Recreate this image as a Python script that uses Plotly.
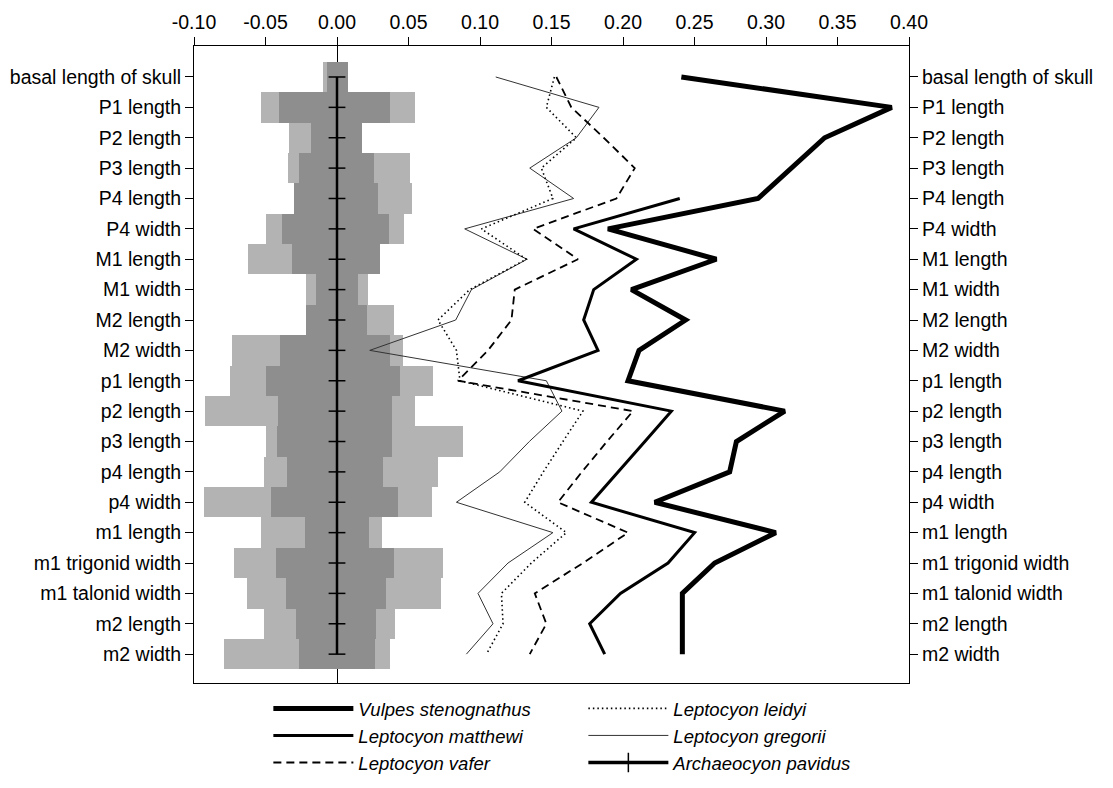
import plotly.graph_objects as go

categories = ["basal length of skull", "P1 length", "P2 length", "P3 length", "P4 length",
              "P4 width", "M1 length", "M1 width", "M2 length", "M2 width",
              "p1 length", "p2 length", "p3 length", "p4 length", "p4 width",
              "m1 length", "m1 trigonid width", "m1 talonid width", "m2 length", "m2 width"]

# variation ranges (light = outer range, dark = inner range)
light_lo = [-0.0095, -0.0530, -0.0338, -0.0345, -0.0298, -0.0494, -0.0624, -0.0217, -0.0217, -0.0734,
            -0.0748, -0.0920, -0.0494, -0.0513, -0.0930, -0.0534, -0.0717, -0.0631, -0.0513, -0.0790]
light_hi = [0.0078, 0.0546, 0.0173, 0.0513, 0.0527, 0.0469, 0.0303, 0.0217, 0.0397, 0.0462,
            0.0671, 0.0545, 0.0881, 0.0708, 0.0664, 0.0313, 0.0739, 0.0730, 0.0406, 0.0369]
dark_lo = [-0.0070, -0.0406, -0.0179, -0.0268, -0.0298, -0.0382, -0.0317, -0.0149, -0.0217, -0.0401,
           -0.0494, -0.0413, -0.0420, -0.0347, -0.0464, -0.0224, -0.0429, -0.0354, -0.0289, -0.0268]
dark_hi = [0.0078, 0.0370, 0.0173, 0.0257, 0.0287, 0.0362, 0.0303, 0.0147, 0.0210, 0.0369,
           0.0443, 0.0387, 0.0387, 0.0322, 0.0427, 0.0222, 0.0397, 0.0341, 0.0276, 0.0269]

vulpes = [0.2408, 0.3879, 0.3410, 0.3176, 0.2944, 0.1895, 0.2653, 0.2059, 0.2438, 0.2112,
          0.2035, 0.3131, 0.2793, 0.2746, 0.2222, 0.3068, 0.2641, 0.2415, 0.2415, 0.2415]
matthewi = [None, None, None, None, 0.2397, 0.1655, 0.2094, 0.1795, 0.1725, 0.1825,
            0.1266, 0.2338, 0.2153, 0.1968, 0.1779, 0.2501, 0.2315, 0.1982, 0.1767, 0.1872]
vafer = [0.1534, 0.1639, 0.1865, 0.2082, 0.1954, 0.1371, 0.1685, 0.1243, 0.1220, 0.1056,
         0.0846, 0.2070, 0.1888, 0.1713, 0.1545, 0.2035, 0.1720, 0.1383, 0.1464, 0.1348]
leidyi = [0.1520, 0.1464, 0.1674, 0.1429, 0.1510, 0.1010, 0.1324, 0.0928, 0.0706, 0.0835,
          0.0860, 0.1720, 0.1580, 0.1443, 0.1313, 0.1604, 0.1359, 0.1150, 0.1161, 0.1045]
gregorii = [0.1110, 0.1832, 0.1674, 0.1348, 0.1655, 0.0893, 0.1329, 0.0940, 0.0830, 0.0229,
            0.1464, 0.1573, 0.1345, 0.1138, 0.0835, 0.1510, 0.1196, 0.0986, 0.1091, 0.0905]
archaeocyon = [0.0] * 20

x_tickvals = [-0.10, -0.05, 0.00, 0.05, 0.10, 0.15, 0.20, 0.25, 0.30, 0.35, 0.40]
x_ticktext = ["-0.10", "-0.05", "0.00", "0.05", "0.10", "0.15", "0.20", "0.25", "0.30", "0.35", "0.40"]

FONT = "Liberation Sans, Arial, sans-serif"
TICK_SIZE = 19.5

fig = go.Figure()

fig.add_trace(go.Bar(y=categories, base=light_lo, x=[h - l for h, l in zip(light_hi, light_lo)],
                     orientation="h", width=1, marker=dict(color="#b3b3b3", line=dict(width=0)),
                     showlegend=False, hoverinfo="skip"))
fig.add_trace(go.Bar(y=categories, base=dark_lo, x=[h - l for h, l in zip(dark_hi, dark_lo)],
                     orientation="h", width=1, marker=dict(color="#8e8e8e", line=dict(width=0)),
                     showlegend=False, hoverinfo="skip"))

fig.add_trace(go.Scatter(x=gregorii, y=categories, mode="lines", name="<i>Leptocyon gregorii</i>",
                         line=dict(color="#333333", width=1), legendrank=4))
fig.add_trace(go.Scatter(x=leidyi, y=categories, mode="lines", name="<i>Leptocyon leidyi</i>",
                         line=dict(color="black", width=1.6, dash="1.5px,3px"), legendrank=2))
fig.add_trace(go.Scatter(x=vafer, y=categories, mode="lines", name="<i>Leptocyon vafer</i>",
                         line=dict(color="black", width=1.8, dash="8px,5px"), legendrank=5))
fig.add_trace(go.Scatter(x=matthewi, y=categories, mode="lines", name="<i>Leptocyon matthewi</i>",
                         line=dict(color="black", width=3), legendrank=3, connectgaps=False))
fig.add_trace(go.Scatter(x=vulpes, y=categories, mode="lines", name="<i>Vulpes stenognathus</i>",
                         line=dict(color="black", width=5), legendrank=1))
fig.add_trace(go.Scatter(x=archaeocyon, y=categories, mode="lines+markers", name="<i>Archaeocyon pavidus</i>",
                         line=dict(color="black", width=2.5),
                         marker=dict(symbol="line-ew", size=12, line=dict(color="black", width=1.5)),
                         yaxis="y2", showlegend=False, hoverinfo="skip"))
# legend entry for the reference species (vertical tick on a horizontal line)
fig.add_trace(go.Scatter(x=[None], y=[None], mode="lines+markers", name="<i>Archaeocyon pavidus</i>",
                         line=dict(color="black", width=3.5),
                         marker=dict(symbol="line-ns", size=14, line=dict(color="black", width=1.5)),
                         yaxis="y2", legendrank=6))

yrange = [19.95, -1.02]

fig.update_layout(
    width=1113, height=788,
    template="none",
    paper_bgcolor="white", plot_bgcolor="white",
    margin=dict(l=186, r=212, t=38, b=113),
    barmode="overlay", bargap=0,
    font=dict(family=FONT, size=TICK_SIZE, color="black"),
    xaxis=dict(side="top", range=[-0.10, 0.40], tickvals=x_tickvals, ticktext=x_ticktext,
               showgrid=False, zeroline=True, zerolinecolor="black", zerolinewidth=1,
               showline=True, linecolor="black", linewidth=1, mirror=True,
               ticks="outside", ticklen=8, tickcolor="black", tickwidth=1,
               tickfont=dict(size=TICK_SIZE)),
    yaxis=dict(type="category", categoryorder="array", categoryarray=categories, range=yrange,
               showgrid=False, zeroline=False, showline=True, linecolor="black", linewidth=1,
               ticks="outside", ticklen=8, tickcolor="black", tickwidth=1,
               tickfont=dict(size=TICK_SIZE)),
    yaxis2=dict(type="category", categoryorder="array", categoryarray=categories, range=yrange,
                overlaying="y", side="right",
                showgrid=False, zeroline=False, showline=True, linecolor="black", linewidth=1,
                ticks="outside", ticklen=8, tickcolor="black", tickwidth=1,
                tickfont=dict(size=TICK_SIZE)),
    legend=dict(orientation="h", x=0.104, xanchor="left",
                yref="container", y=0.1347, yanchor="top",
                entrywidth=220, entrywidthmode="pixels", itemwidth=80,
                font=dict(family=FONT, size=18.5, color="black"),
                bgcolor="rgba(0,0,0,0)", tracegroupgap=0),
    showlegend=True,
)

fig.write_html("out.html")
